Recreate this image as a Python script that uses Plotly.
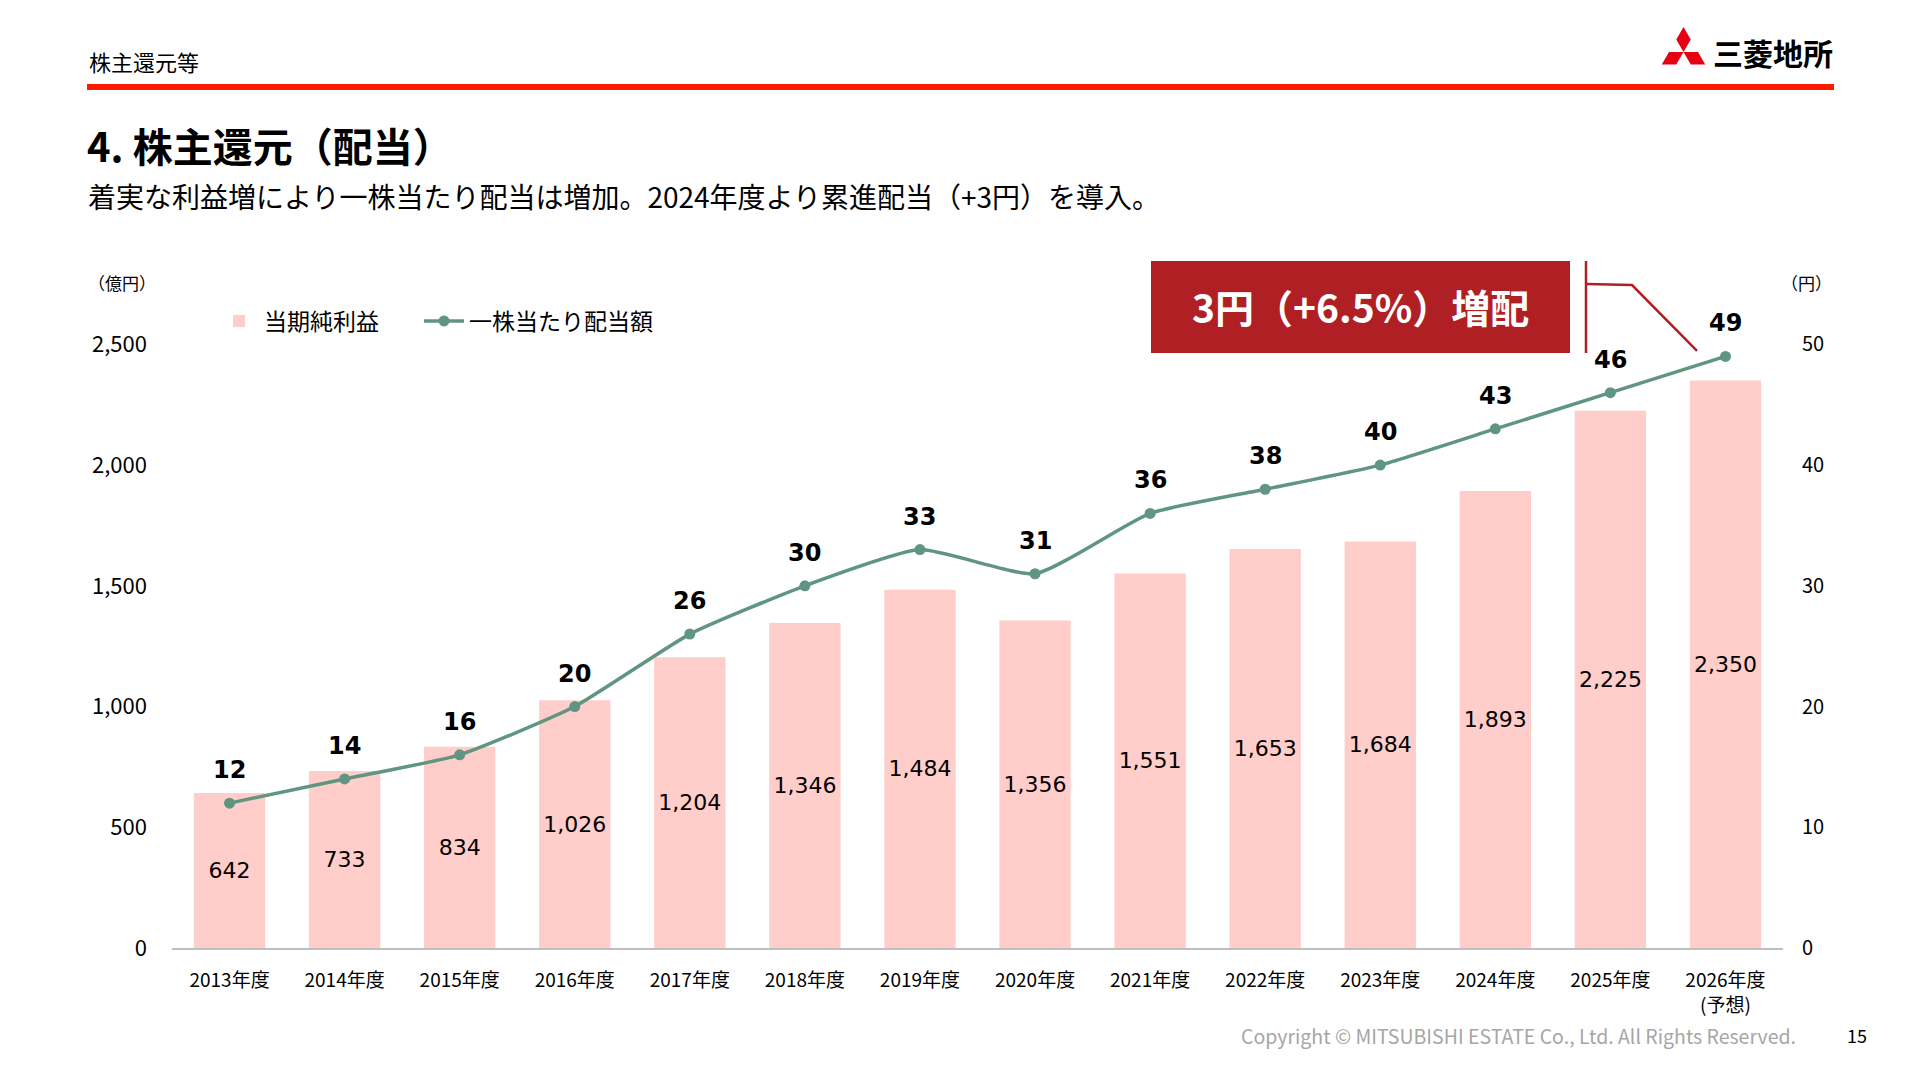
import plotly.graph_objects as go

# ---------------- data ----------------
categories = ["2013年度", "2014年度", "2015年度", "2016年度", "2017年度",
              "2018年度", "2019年度", "2020年度", "2021年度", "2022年度",
              "2023年度", "2024年度", "2025年度", "2026年度<br>(予想)"]
net_income = [642, 733, 834, 1026, 1204, 1346, 1484, 1356, 1551, 1653,
              1684, 1893, 2225, 2350]
dividend = [12, 14, 16, 20, 26, 30, 33, 31, 36, 38, 40, 43, 46, 49]
series_names = ["当期純利益", "一株当たり配当額"]
left_ticks = [0, 500, 1000, 1500, 2000, 2500]
right_ticks = [0, 10, 20, 30, 40, 50]

# ---------------- layout geometry (pixels) ----------------
W, H = 1920, 1080
PL, PR, PT, PB = 172, 1783, 284, 948   # plot area
Y_MAX, Y2_MAX = 2750, 55


def px(x):
    return (x - PL) / (PR - PL)


def py(y):
    return (PB - y) / (PB - PT)


BAR_COLOR = "#FFCDCA"
LINE_COLOR = "#5F9581"
DARK_RED = "#B01F24"
CJK = "Noto Sans CJK JP"
NUM = "DejaVu Sans"

fig = go.Figure()

fig.add_trace(go.Bar(
    x=categories, y=net_income, name=series_names[0], legend="legend",
    marker=dict(color=BAR_COLOR, line=dict(width=0)),
    text=[f"{v:,}" for v in net_income],
    textposition="inside", insidetextanchor="middle", textangle=0,
    textfont=dict(family=NUM, size=22, color="#000000"),
    hoverinfo="skip",
))

fig.add_trace(go.Scatter(
    x=categories, y=dividend, name=series_names[1], yaxis="y2",
    legend="legend2",
    mode="lines+markers",
    line=dict(color=LINE_COLOR, width=3.5, shape="spline", smoothing=0.5),
    marker=dict(color=LINE_COLOR, size=11),
    hoverinfo="skip",
))

annotations = []
# dividend labels
for cat, d in zip(categories, dividend):
    annotations.append(dict(
        x=cat, y=d, xref="x", yref="y2", text=f"<b>{d}</b>", showarrow=False,
        xanchor="center", yanchor="middle",
        yshift=33, font=dict(family=NUM, size=24, color="#000000"),
    ))


def note(x, y, text, size, color="#000000", xanchor="center", bold=False):
    return dict(x=px(x), y=py(y), xref="paper", yref="paper",
                xanchor=xanchor, yanchor="middle",
                text=f"<b>{text}</b>" if bold else text, showarrow=False,
                font=dict(family=CJK, size=size, color=color))


# axis unit labels
annotations.append(note(122, 282, "（億円）", 17))
annotations.append(note(1806, 282, "（円）", 17))
# header texts
annotations.append(note(87, 61, "株主還元等", 22, xanchor="left"))
annotations.append(note(85, 145, "4. 株主還元（配当）", 40, xanchor="left", bold=True))
annotations.append(note(86, 196,
                        "着実な利益増により一株当たり配当は増加。2024年度より累進配当（+3円）を導入。",
                        28, xanchor="left"))
annotations.append(note(1835, 52, "三菱地所", 30, xanchor="right", bold=True))
# callout
annotations.append(note((1151 + 1570) / 2, 306, "3円（+6.5%）増配", 39,
                        color="#FFFFFF", bold=True))
# footer
annotations.append(note(1798, 1035,
                        "Copyright © MITSUBISHI ESTATE Co., Ltd. All Rights Reserved.",
                        19.5, color="#A6A6A6", xanchor="right"))
annotations.append(note(1857, 1035, "15", 18))

shapes = []
# red header rule
shapes.append(dict(type="rect", xref="paper", yref="paper",
                   x0=px(87), x1=px(1834), y0=py(84), y1=py(90),
                   fillcolor="#FF1A00", line=dict(width=0), layer="above"))

# Mitsubishi three-diamond mark
a = 14.5
cx, cy = 1683.5, 52.0
s3 = 3 ** 0.5
top = [(cx, cy), (cx - a / 2, cy - a * s3 / 2), (cx, cy - a * s3),
       (cx + a / 2, cy - a * s3 / 2)]
right = [(cx, cy), (cx + a, cy), (cx + 1.5 * a, cy + a * s3 / 2),
         (cx + a / 2, cy + a * s3 / 2)]
left = [(cx, cy), (cx - a, cy), (cx - 1.5 * a, cy + a * s3 / 2),
        (cx - a / 2, cy + a * s3 / 2)]
for poly in (top, right, left):
    path = "M " + " L ".join(f"{px(x):.5f},{py(y):.5f}" for x, y in poly) + " Z"
    shapes.append(dict(type="path", xref="paper", yref="paper", path=path,
                       fillcolor="#E60012", line=dict(width=0), layer="above"))

# callout box
shapes.append(dict(type="rect", xref="paper", yref="paper",
                   x0=px(1151), x1=px(1570), y0=py(353), y1=py(261),
                   fillcolor=DARK_RED, line=dict(width=0), layer="above"))
# bracket
shapes.append(dict(type="line", xref="paper", yref="paper",
                   x0=px(1586), x1=px(1586), y0=py(261), y1=py(353),
                   line=dict(color=DARK_RED, width=2.5), layer="above"))
shapes.append(dict(type="path", xref="paper", yref="paper",
                   path=f"M {px(1586):.5f},{py(284):.5f} L {px(1632):.5f},{py(285):.5f} "
                        f"L {px(1697):.5f},{py(351):.5f}",
                   line=dict(color=DARK_RED, width=2.5), layer="above"))

legend_common = dict(orientation="h", yanchor="middle", xanchor="left",
                     font=dict(family=CJK, size=23, color="#000000"),
                     itemwidth=40, bgcolor="rgba(0,0,0,0)")

fig.update_layout(
    width=W, height=H,
    margin=dict(l=PL, r=W - PR, t=PT, b=H - PB, pad=0),
    paper_bgcolor="#FFFFFF", plot_bgcolor="#FFFFFF",
    font=dict(family=CJK, size=20, color="#000000"),
    bargap=0.38,
    showlegend=True,
    legend=dict(x=px(214), y=py(321), **legend_common),
    legend2=dict(x=px(419), y=py(321), **legend_common),
    xaxis=dict(type="category", range=[-0.5, len(categories) - 0.5],
               showline=True, linecolor="#BFBFBF",
               linewidth=2, showgrid=False, ticks="", ticklabelstandoff=14,
               tickfont=dict(family=CJK, size=19, color="#000000"),
               fixedrange=True),
    yaxis=dict(range=[0, Y_MAX], tickmode="array",
               tickvals=left_ticks,
               ticktext=[f"{v:,}" for v in left_ticks],
               showgrid=False, zeroline=False, showline=False, ticks="",
               ticklabelstandoff=24,
               tickfont=dict(family=CJK, size=22, color="#000000")),
    yaxis2=dict(range=[0, Y2_MAX], overlaying="y", side="right",
                tickmode="array", tickvals=right_ticks,
                showgrid=False, zeroline=False, showline=False, ticks="",
                ticklabelstandoff=18,
                tickfont=dict(family=CJK, size=20, color="#000000")),
    annotations=annotations,
    shapes=shapes,
)

fig.write_html("out.html")
